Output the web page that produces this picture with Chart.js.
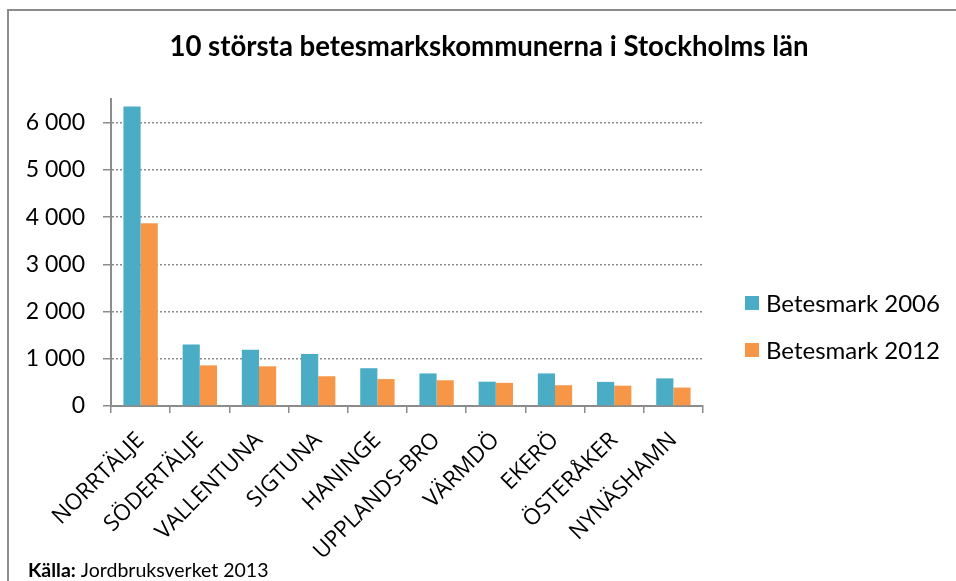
<!DOCTYPE html>
<html>
<head>
<meta charset="utf-8">
<script src="https://cdn.jsdelivr.net/npm/chart.js@4.4.1/dist/chart.umd.min.js"></script>
<style>
    html, body { margin: 0; padding: 0; background: #fff; overflow: hidden; }
    .wrap { position: relative; width: 956px; height: 581px; }
    .frame { position: absolute; left: 7px; top: 9px; width: 1000px; height: 1000px; border: 2px solid #8c8c8c; box-sizing: border-box; }
</style>
</head>
<body>
<div class="wrap">
    <div class="frame"></div>
    <canvas id="chart"></canvas>
</div>
<script>
const kommuner = ['NORRTÄLJE', 'SÖDERTÄLJE', 'VALLENTUNA', 'SIGTUNA', 'HANINGE', 'UPPLANDS-BRO', 'VÄRMDÖ', 'EKERÖ', 'ÖSTERÅKER', 'NYNÄSHAMN'];
const betesmark2006 = [6340, 1300, 1190, 1100, 800, 690, 515, 690, 510, 585];
const betesmark2012 = [3870, 860, 840, 630, 570, 545, 490, 440, 430, 390];
const yTicks = [0, 1000, 2000, 3000, 4000, 5000, 6000];

const titel = '10 största betesmarkskommunerna i Stockholms län';
const kallaFet = 'Källa:';
const kallaText = ' Jordbruksverket 2013';

// mellanslag som tusentalsavgränsare
function fmt(v) {
    return String(v).replace(/\B(?=(\d{3})+(?!\d))/g, ' ');
}

// Förklaring till höger om diagrammet
const legendPlugin = {
    id: 'sideLegend',
    afterDraw(chart) {
        const ctx = chart.ctx;
        const rows = [303, 350];
        ctx.save();
        ctx.font = '24px Lato';
        ctx.textBaseline = 'middle';
        chart.data.datasets.forEach((ds, i) => {
            ctx.fillStyle = ds.backgroundColor;
            ctx.fillRect(745, rows[i] - 7, 14, 14);
            ctx.fillStyle = '#000';
            ctx.fillText(ds.label, 766, rows[i] + 1);
        });
        ctx.restore();
    }
};

// Källa nere till vänster
const sourcePlugin = {
    id: 'source',
    afterDraw(chart) {
        const ctx = chart.ctx;
        ctx.save();
        ctx.fillStyle = '#000';
        ctx.textBaseline = 'alphabetic';
        ctx.font = 'bold 19.5px Lato';
        ctx.fillText(kallaFet, 28, 577);
        const w = ctx.measureText(kallaFet).width;
        ctx.font = '19.5px Lato';
        ctx.fillText(kallaText, 28 + w, 577);
        ctx.restore();
    }
};

new Chart(document.getElementById('chart'), {
    type: 'bar',
    data: {
        labels: kommuner,
        datasets: [{
            label: 'Betesmark 2006',
            data: betesmark2006,
            backgroundColor: '#4BACC6',
            categoryPercentage: 0.58,
            barPercentage: 1
        }, {
            label: 'Betesmark 2012',
            data: betesmark2012,
            backgroundColor: '#F79646',
            categoryPercentage: 0.58,
            barPercentage: 1
        }]
    },
    options: {
        responsive: true,
        maintainAspectRatio: false,
        animation: false,
        layout: {
            padding: { left: 22, right: 0, top: 0, bottom: 0 }
        },
        plugins: {
            legend: { display: false },
            tooltip: { enabled: false },
            title: {
                display: true,
                text: titel,
                color: '#000',
                font: { family: 'Lato', size: 27.6, weight: 'bold' },
                padding: { top: 30.5, bottom: 35.4 }
            }
        },
        scales: {
            x: {
                afterFit: scale => { scale.height = 175; },
                grid: {
                    drawOnChartArea: false,
                    color: '#8c8c8c',
                    lineWidth: 1.5,
                    tickLength: 7
                },
                border: { color: '#8c8c8c', width: 2 },
                ticks: {
                    autoSkip: false,
                    maxRotation: 45,
                    minRotation: 45,
                    padding: 14,
                    color: '#000',
                    font: { family: 'Open Sans', size: 22.5 }
                }
            },
            y: {
                min: 0,
                max: 6500,
                afterFit: scale => { scale.width = 89; },
                afterBuildTicks: scale => {
                    scale.ticks = yTicks.map(v => ({ value: v }));
                },
                grid: {
                    color: '#8c8c8c',
                    lineWidth: 1.5,
                    tickLength: 8
                },
                border: { color: '#8c8c8c', width: 2, dash: [2, 2] },
                ticks: {
                    padding: 18,
                    color: '#000',
                    font: { family: 'Lato', size: 23 },
                    callback: v => fmt(v)
                }
            },
            yR: {
                position: 'right',
                afterFit: scale => { scale.width = 253; },
                grid: { display: false },
                border: { display: false },
                ticks: { display: false }
            }
        }
    },
    plugins: [legendPlugin, sourcePlugin]
});
</script>
</body>
</html>
